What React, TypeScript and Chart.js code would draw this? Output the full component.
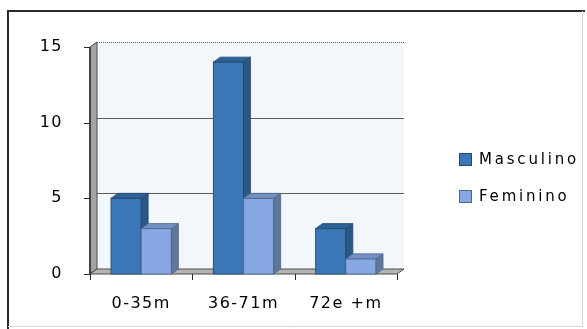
import { useEffect, useRef } from "react";
import { Chart, registerables } from "chart.js";

Chart.register(...registerables);

// Chart data
const categories = ["0-35m", "36-71m", "72e +m"];
const masculino = [5, 14, 3];
const feminino = [3, 5, 1];
const yTicks = [0, 5, 10, 15];
const seriesNames = ["Masculino", "Feminino"];

// 3D look: colours for front / side / top faces
const frontColors = ["#3b77b6", "#88a8e4"];
const sideColors = ["#2a5884", "#5f7899"];
const topColors = ["#2d6298", "#7290c2"];
const edgeColors = ["#23496f", "#4e6688"];

const BAR_DX = 7;
const BAR_DY = -5;
const WALL_DX = 7;
const WALL_DY = -5;

const FONT = "DejaVu Sans, sans-serif";
const TEXT = "#000";

const depthPlugin = {
  id: "depth3d",
  beforeDraw(chart: any) {
    const { ctx, width, height } = chart;
    ctx.save();
    ctx.fillStyle = "#ffffff";
    ctx.fillRect(0, 0, width, height);
    // frame
    ctx.strokeStyle = "#2a2a2a";
    ctx.lineWidth = 2;
    ctx.beginPath();
    ctx.moveTo(585, 11);
    ctx.lineTo(8, 11);
    ctx.lineTo(8, height);
    ctx.stroke();
    ctx.strokeStyle = "#d6d6d6";
    ctx.lineWidth = 1;
    ctx.beginPath();
    ctx.moveTo(582.5, 11);
    ctx.lineTo(582.5, 326.5);
    ctx.lineTo(8, 326.5);
    ctx.stroke();
    ctx.restore();
    // slightly spaced lettering for the axis labels
    (ctx as any).letterSpacing = "1.5px";
  },
  beforeDatasetsDraw(chart: any) {
    const { ctx, chartArea, scales } = chart;
    const y = scales.y;
    const { left, right, top, bottom } = chartArea;
    ctx.save();
    // back wall
    ctx.fillStyle = "#f3f7fc";
    ctx.fillRect(left + WALL_DX, top + WALL_DY, right - left, bottom - top);
    // gridlines on the back wall
    yTicks.forEach((v) => {
      const isTop = v === yTicks[yTicks.length - 1];
      const py = Math.round(y.getPixelForValue(v) + WALL_DY) + 0.5;
      ctx.strokeStyle = isTop ? "#666" : "#5a5a5a";
      ctx.setLineDash(isTop ? [1, 1] : []);
      ctx.lineWidth = 1;
      ctx.beginPath();
      ctx.moveTo(left + WALL_DX, py);
      ctx.lineTo(right + WALL_DX, py);
      ctx.stroke();
    });
    ctx.setLineDash([]);
    // left wall
    ctx.fillStyle = "#a3a3a3";
    ctx.strokeStyle = "#4a4a4a";
    ctx.beginPath();
    ctx.moveTo(left, bottom);
    ctx.lineTo(left, top);
    ctx.lineTo(left + WALL_DX, top + WALL_DY);
    ctx.lineTo(left + WALL_DX, bottom + WALL_DY);
    ctx.closePath();
    ctx.fill();
    ctx.stroke();
    // floor
    ctx.fillStyle = "#b4b4b4";
    ctx.beginPath();
    ctx.moveTo(left, bottom);
    ctx.lineTo(right, bottom);
    ctx.lineTo(right + WALL_DX, bottom + WALL_DY);
    ctx.lineTo(left + WALL_DX, bottom + WALL_DY);
    ctx.closePath();
    ctx.fill();
    ctx.stroke();
    // front axis lines and tick marks
    ctx.strokeStyle = "#2a2a2a";
    ctx.lineWidth = 1.5;
    ctx.beginPath();
    ctx.moveTo(left, top);
    ctx.lineTo(left, bottom);
    ctx.stroke();
    ctx.lineWidth = 1;
    yTicks.forEach((v) => {
      const py = Math.round(y.getPixelForValue(v)) + 0.5;
      ctx.beginPath();
      ctx.moveTo(left - 6, py);
      ctx.lineTo(left, py);
      ctx.stroke();
    });
    const n = categories.length;
    for (let i = 0; i <= n; i++) {
      const px = Math.round(left + ((right - left) * i) / n) + 0.5;
      ctx.beginPath();
      ctx.moveTo(px, bottom);
      ctx.lineTo(px, bottom + 6);
      ctx.stroke();
    }
    ctx.restore();
  },
  afterDatasetsDraw(chart: any) {
    const { ctx } = chart;
    ctx.save();
    ctx.lineWidth = 0.8;
    // series in their own order so each later bar sits in front of the earlier one's side
    chart.data.datasets.forEach((_ds: any, di: number) => {
      const meta = chart.getDatasetMeta(di);
      ctx.strokeStyle = edgeColors[di];
      meta.data.forEach((el: any) => {
        const { x, y, base, width } = el.getProps(["x", "y", "base", "width"], true);
        const l = x - width / 2;
        const r = x + width / 2;
        // front face
        ctx.fillStyle = frontColors[di];
        ctx.fillRect(l, y, width, base - y);
        ctx.strokeRect(l, y, width, base - y);
        // side face
        ctx.fillStyle = sideColors[di];
        ctx.beginPath();
        ctx.moveTo(r, y);
        ctx.lineTo(r + BAR_DX, y + BAR_DY);
        ctx.lineTo(r + BAR_DX, base + BAR_DY);
        ctx.lineTo(r, base);
        ctx.closePath();
        ctx.fill();
        ctx.stroke();
        // top face
        ctx.fillStyle = topColors[di];
        ctx.beginPath();
        ctx.moveTo(l, y);
        ctx.lineTo(l + BAR_DX, y + BAR_DY);
        ctx.lineTo(r + BAR_DX, y + BAR_DY);
        ctx.lineTo(r, y);
        ctx.closePath();
        ctx.fill();
        ctx.stroke();
      });
    });
    ctx.restore();
  },
  afterDraw(chart: any) {
    const { ctx } = chart;
    ctx.save();
    ctx.font = `15px ${FONT}`;
    (ctx as any).letterSpacing = "2.8px";
    ctx.textBaseline = "middle";
    ctx.textAlign = "left";
    chart.data.datasets.forEach((ds: any, i: number) => {
      const cy = 160 + i * 37;
      ctx.fillStyle = ds.backgroundColor;
      ctx.strokeStyle = edgeColors[i];
      ctx.lineWidth = 1;
      ctx.fillRect(459, cy - 7, 13, 13);
      ctx.strokeRect(459.5, cy - 6.5, 12, 12);
      ctx.fillStyle = TEXT;
      ctx.fillText(ds.label, 479, cy);
    });
    ctx.restore();
  },
};

export default function App() {
  const canvasRef = useRef<HTMLCanvasElement | null>(null);

  useEffect(() => {
    const canvas = canvasRef.current;
    if (!canvas) return;
    const chart = new Chart(canvas, {
      type: "bar",
      data: {
        labels: categories,
        datasets: [
          {
            label: seriesNames[0],
            data: masculino,
            backgroundColor: frontColors[0],
            borderWidth: 0,
          },
          {
            label: seriesNames[1],
            data: feminino,
            backgroundColor: frontColors[1],
            borderWidth: 0,
          },
        ],
      },
      options: {
        animation: false,
        responsive: true,
        maintainAspectRatio: false,
        layout: { padding: { left: 40, top: 47, right: 190, bottom: 15 } },
        plugins: {
          legend: { display: false },
          tooltip: { enabled: false },
        },
        datasets: {
          bar: { categoryPercentage: 0.59, barPercentage: 1 },
        },
        scales: {
          x: {
            grid: { display: false, drawTicks: false },
            border: { display: false },
            ticks: {
              padding: 20,
              color: TEXT,
              font: { family: FONT, size: 16 },
            },
            afterFit: (s: any) => {
              s.height = 40;
            },
          },
          y: {
            min: 0,
            max: 15,
            grid: { display: false, drawTicks: false },
            border: { display: false },
            afterBuildTicks: (s: any) => {
              s.ticks = yTicks.map((v) => ({ value: v }));
            },
            ticks: {
              padding: 27,
              color: TEXT,
              font: { family: FONT, size: 16 },
            },
            afterFit: (s: any) => {
              s.width = 50;
            },
          },
        },
      },
      plugins: [depthPlugin],
    });
    return () => chart.destroy();
  }, []);

  return (
    <div style={{ position: "fixed", left: 0, top: 0, width: 587, height: 329 }}>
      <canvas ref={canvasRef} />
    </div>
  );
}
